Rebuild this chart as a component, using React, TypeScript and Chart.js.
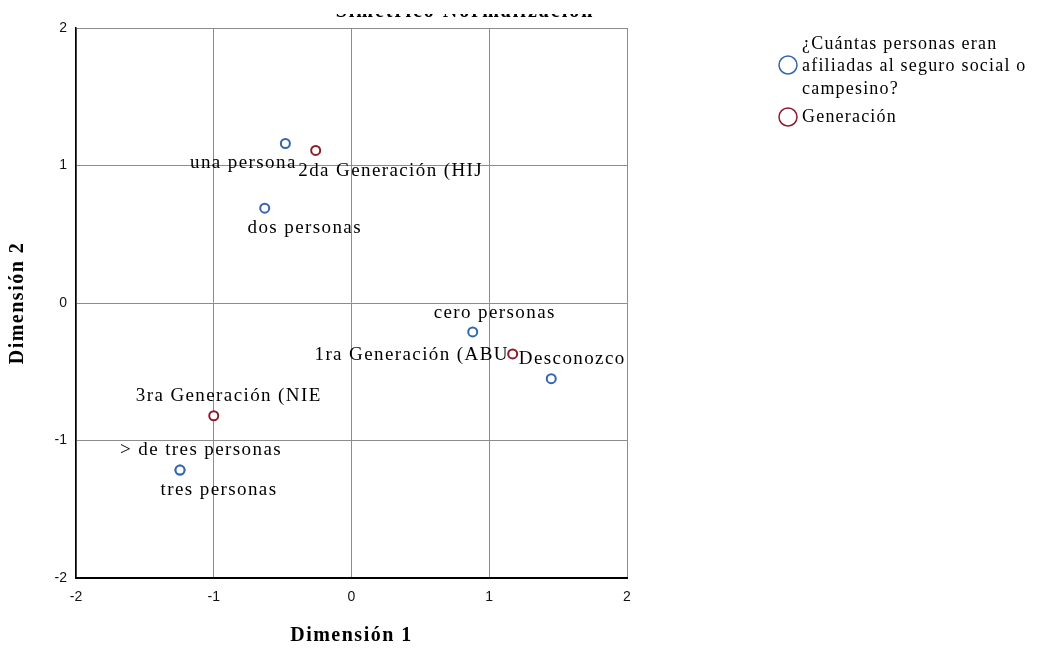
import React, { useEffect, useRef } from "react";
import { Chart, registerables } from "chart.js";

Chart.register(...registerables);

// Series 1: ¿Cuántas personas eran afiliadas al seguro social o campesino?
const afiliadosLabels = ["una persona", "dos personas", "cero personas", "Desconozco", "> de tres personas", "tres personas"];
const afiliadosDim1 = [-0.48, -0.63, 0.88, 1.45, -1.245, -1.245];
const afiliadosDim2 = [1.16, 0.69, -0.21, -0.55, -1.215, -1.215];

// Series 2: Generación
const generacionLabels = ["2da Generación (HIJ", "1ra Generación (ABU", "3ra Generación (NIE"];
const generacionDim1 = [-0.26, 1.17, -1.0];
const generacionDim2 = [1.11, -0.37, -0.82];

const axisTicks = [-2, -1, 0, 1, 2];

const legendLines1 = ["¿Cuántas personas eran", "afiliadas al seguro social o", "campesino?"];
const legendLabel2 = "Generación";
const chartTitle = "Simétrico Normalización";
const xTitle = "Dimensión 1";
const yTitle = "Dimensión 2";

// label placement (offset of text centre from the point, px)
const afiliadosLabelOffsets = [[-42, 20], [40, 20], [22, -19], [21, -20], [21, -20], [39, 20]];
const generacionLabelOffsets = [[75, 21], [-101, 1], [15, -20]];

const BLUE = "#3566ad";
const RED = "#8a1d2c";
const SERIF = "'Liberation Serif', 'Times New Roman', serif";
const SANS = "'Liberation Sans', Arial, sans-serif";

export default function App() {
  const ref = useRef<HTMLCanvasElement>(null);

  useEffect(() => {
    const ctx = ref.current!.getContext("2d")!;

    const labelPlugin = {
      id: "pointLabels",
      afterDatasetsDraw(chart: any) {
        const c = chart.ctx;
        c.save();
        c.font = `19px ${SERIF}`;
        (c as any).letterSpacing = "1.4px";
        c.fillStyle = "#000";
        c.textAlign = "center";
        c.textBaseline = "middle";
        const sets = [
          { labels: afiliadosLabels, offs: afiliadosLabelOffsets },
          { labels: generacionLabels, offs: generacionLabelOffsets },
        ];
        sets.forEach((s, di) => {
          const meta = chart.getDatasetMeta(di);
          meta.data.forEach((el: any, i: number) => {
            c.fillText(s.labels[i], el.x + s.offs[i][0], el.y + s.offs[i][1]);
          });
        });
        c.restore();
      },
    };

    const decorPlugin = {
      id: "decor",
      afterDraw(chart: any) {
        const c = chart.ctx;
        const area = chart.chartArea;
        c.save();
        // title, mostly cut off at the top of the picture
        c.save();
        c.font = `bold 20px ${SERIF}`;
        (c as any).letterSpacing = "2px";
        c.fillStyle = "#000";
        c.textAlign = "center";
        c.textBaseline = "alphabetic";
        c.fillText(chartTitle, 465, 16.5);
        c.fillStyle = "#fff";
        c.fillRect(300, 0, 340, 14);
        c.restore();

        // axis titles
        c.save();
        c.font = `bold 20px ${SERIF}`;
        (c as any).letterSpacing = "1.5px";
        c.fillStyle = "#000";
        c.textAlign = "center";
        c.textBaseline = "middle";
        c.fillText(xTitle, (area.left + area.right) / 2, 636);
        c.translate(18, (area.top + area.bottom) / 2);
        c.rotate(-Math.PI / 2);
        c.fillText(yTitle, 0, 0);
        c.restore();

        // legend
        c.lineWidth = 1.5;
        c.strokeStyle = BLUE;
        c.beginPath();
        c.arc(788, 65, 9, 0, Math.PI * 2);
        c.stroke();
        c.strokeStyle = RED;
        c.beginPath();
        c.arc(788, 117, 9, 0, Math.PI * 2);
        c.stroke();
        c.font = `18px ${SERIF}`;
        (c as any).letterSpacing = "1.2px";
        c.fillStyle = "#000";
        c.textAlign = "left";
        c.textBaseline = "middle";
        legendLines1.forEach((t, i) => c.fillText(t, 802, 44 + i * 22.5));
        c.fillText(legendLabel2, 802, 117);
        c.restore();
      },
    };

    const chart = new Chart(ctx, {
      type: "scatter",
      data: {
        datasets: [
          {
            label: legendLines1.join(" "),
            data: afiliadosDim1.map((x, i) => ({ x, y: afiliadosDim2[i] })),
            borderColor: BLUE,
            backgroundColor: "#ffffff",
            borderWidth: 2,
            pointRadius: 4.5,
          },
          {
            label: legendLabel2,
            data: generacionDim1.map((x, i) => ({ x, y: generacionDim2[i] })),
            borderColor: RED,
            backgroundColor: "#ffffff",
            borderWidth: 2,
            pointRadius: 4.5,
          },
        ],
      },
      options: {
        animation: false,
        responsive: false,
        layout: { padding: { left: 0, right: 414, top: 28, bottom: 0 } },
        plugins: { legend: { display: false }, tooltip: { enabled: false }, title: { display: false } },
        scales: {
          x: {
            type: "linear",
            min: -2,
            max: 2,
            afterBuildTicks: (s: any) => { s.ticks = axisTicks.map((v) => ({ value: v })); },
            afterFit: (s: any) => { s.height = 70; },
            ticks: { color: "#111", font: { family: SANS, size: 14 }, padding: 11 },
            grid: { color: "#8c8c8c", lineWidth: 1, drawTicks: false },
            border: { color: "#000", width: 2 },
            title: { display: false },
          },
          y: {
            type: "linear",
            min: -2,
            max: 2,
            afterBuildTicks: (s: any) => { s.ticks = axisTicks.map((v) => ({ value: v })); },
            afterFit: (s: any) => { s.width = 76; },
            ticks: { color: "#111", font: { family: SANS, size: 14 }, padding: 9 },
            grid: { color: "#8c8c8c", lineWidth: 1, drawTicks: false },
            border: { color: "#000", width: 1.5 },
            title: { display: false },
          },
        },
      },
      plugins: [labelPlugin, decorPlugin],
    });
    return () => chart.destroy();
  }, []);

  return (
    <div style={{ position: "fixed", left: 0, top: 0, width: 1041, height: 648, background: "#fff" }}>
      <canvas ref={ref} width={1041} height={648} />
    </div>
  );
}
